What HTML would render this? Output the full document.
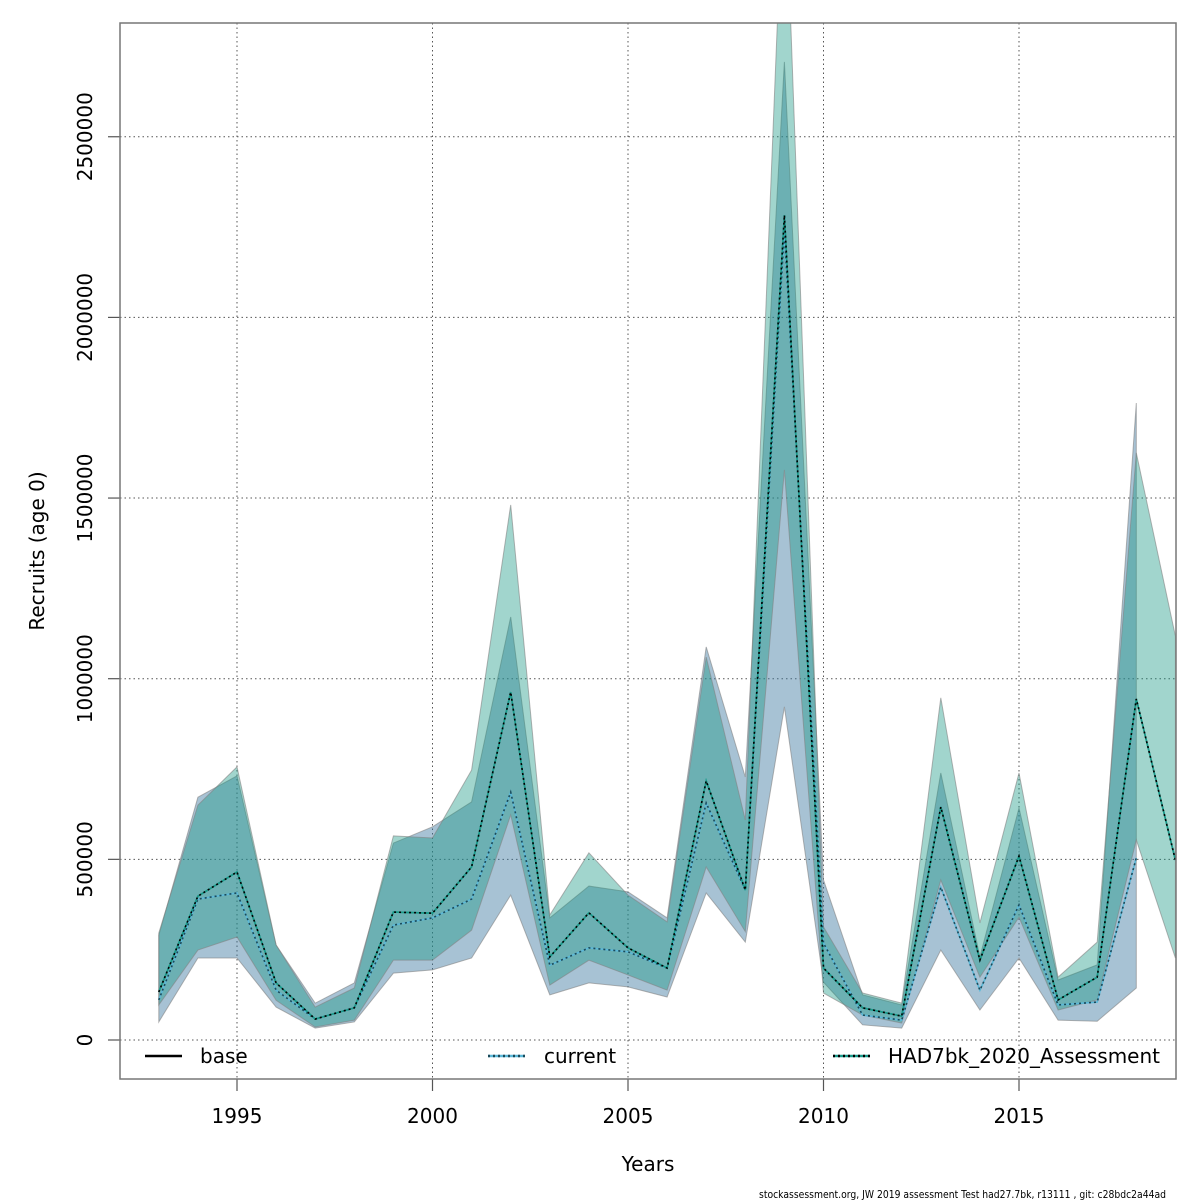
<!DOCTYPE html>
<html><head><meta charset="utf-8"><style>
body{margin:0;background:#fff}
svg{display:block;font-family:"DejaVu Sans","Liberation Sans",sans-serif}
</style></head><body>
<svg id="chart" width="1200" height="1200" viewBox="0 0 1200 1200">
<rect width="1200" height="1200" fill="#fff"/>
<g id="grid"></g>
<g id="bands"></g>
<g id="lines"></g>
<g id="axes"></g>
<rect x="120" y="23" width="1056" height="1056" fill="none" stroke="#777" stroke-width="1.5"/>
<g font-size="20">
<g><line x1="145" y1="1056" x2="182" y2="1056" stroke="#000" stroke-width="2.5"/><text x="200" y="1063">base</text></g>
<g><line x1="488" y1="1056" x2="525" y2="1056" stroke="#5bb8d8" stroke-width="2.5"/><line x1="488" y1="1056" x2="525" y2="1056" stroke="#1a4a5a" stroke-width="2.5" stroke-dasharray="2,3"/><text x="544" y="1063">current</text></g>
<g><line x1="833" y1="1056" x2="870" y2="1056" stroke="#1a9a8a" stroke-width="2.5"/><line x1="833" y1="1056" x2="870" y2="1056" stroke="#000" stroke-width="2.5" stroke-dasharray="2,3"/><text x="888" y="1063">HAD7bk_2020_Assessment</text></g>
</g>
<text x="648" y="1171" font-size="20" text-anchor="middle">Years</text>
<text transform="translate(44,551) rotate(-90)" font-size="20" text-anchor="middle">Recruits (age 0)</text>
<text x="759" y="1198" font-size="10.5" textLength="407" lengthAdjust="spacingAndGlyphs" fill="#000">stockassessment.org, JW 2019 assessment Test had27.7bk, r13111 , git: c28bdc2a44ad</text>
</svg>
<script>
const years=[1993,1994,1995,1996,1997,1998,1999,2000,2001,2002,2003,2004,2005,2006,2007,2008,2009,2010,2011,2012,2013,2014,2015,2016,2017,2018,2019];
const hadEst=[133,398,465,158,58,89,354,351,479,963,230,352,255,199,717,415,2283,199,89,66,645,221,509,111,174,944,498];
const hadLow=[97,249,285,110,36,55,221,221,304,623,152,221,180,138,479,300,1578,130,69,47,443,174,340,83,111,554,227];
const hadHigh=[296,650,756,263,91,144,565,559,747,1481,346,518,401,327,1060,609,3300,313,130,102,947,324,739,174,271,1625,1118];
const curYears=[1993,1994,1995,1996,1997,1998,1999,2000,2001,2002,2003,2004,2005,2006,2007,2008,2009,2010,2011,2012,2013,2014,2015,2016,2017,2018];
const curEst=[111,390,407,138,58,89,318,338,390,686,207,255,244,199,656,415,2242,268,69,55,423,138,374,97,105,504];
const curLow=[50,227,227,91,33,50,185,194,227,401,125,158,147,119,407,271,922,160,42,33,249,83,227,55,52,144];
const curHigh=[290,672,731,263,102,158,545,590,659,1171,338,426,410,338,1088,728,2707,443,125,97,739,230,642,166,208,1763];
const baseEst=hadEst.slice();
const xTicks=[1995,2000,2005,2010,2015];
const yTicks=[0,500000,1000000,1500000,2000000,2500000];
const yTickLabels=["0","500000","1000000","1500000","2000000","2500000"];

const X=y=>158.8+(y-1993)*39.1;
const Y=v=>1040-v*1000*361.3/1e6;
const NS="http://www.w3.org/2000/svg";
function mk(tag,attrs,parent){const e=document.createElementNS(NS,tag);for(const k in attrs)e.setAttribute(k,attrs[k]);parent.appendChild(e);return e;}
const grid=document.getElementById('grid'),bands=document.getElementById('bands'),lines=document.getElementById('lines'),axes=document.getElementById('axes');
const clip=mk('clipPath',{id:'pc'},document.getElementById('chart'));
mk('rect',{x:120,y:23,width:1056,height:1056},clip);
bands.setAttribute('clip-path','url(#pc)');lines.setAttribute('clip-path','url(#pc)');

xTicks.forEach(t=>{
 const g=mk('line',{x1:X(t),x2:X(t),y1:23,y2:1079,stroke:'#555','stroke-dasharray':'1.5,3','stroke-width':1},grid);
 
 
 const tk=mk('line',{x1:X(t),x2:X(t),y1:1079,y2:1091,stroke:'#555','stroke-width':1.2},axes);
 
 
 const tx=mk('text',{x:X(t),y:1123,'font-size':20,'text-anchor':'middle'},axes);tx.textContent=t;
 
 
});
yTicks.forEach((t,i)=>{
 const g=mk('line',{x1:120,x2:1176,y1:Y(t/1000),y2:Y(t/1000),stroke:'#555','stroke-dasharray':'1.5,3','stroke-width':1},grid);
 
 
 const tk=mk('line',{x1:108,x2:120,y1:Y(t/1000),y2:Y(t/1000),stroke:'#555','stroke-width':1.2},axes);
 
 
 const tx=mk('text',{transform:`translate(92,${Y(t/1000)}) rotate(-90)`,'font-size':20,'text-anchor':'middle'},axes);tx.textContent=yTickLabels[i];
 
 
});
function band(xs,lo,hi,fill,name){
 let pts=xs.map((y,i)=>X(y)+','+Y(hi[i]));
 pts=pts.concat(xs.map((y,i)=>X(y)+','+Y(lo[i])).reverse());
 const p=mk('polygon',{points:pts.join(' '),fill:fill,stroke:'rgba(130,130,130,0.6)','stroke-width':1},bands);
 
 
}
band(curYears,curLow,curHigh,'rgba(60,120,160,0.45)','current-band');
band(years,hadLow,hadHigh,'rgba(20,150,130,0.4)','had7bk-band');
function line(xs,v,attrs,name){
 const a=Object.assign({points:xs.map((y,i)=>X(y)+','+Y(v[i])).join(' '),fill:'none','stroke-width':1.6},attrs);
 const p=mk('polyline',a,lines);
 
 
}
line(years,baseEst,{stroke:'#1a9a8a'},'base-line');
line(curYears,curEst,{stroke:'#5bb8d8'},'current-line');
line(curYears,curEst,{stroke:'#1a4a5a','stroke-dasharray':'2,3'},'current-line-dots');
line(years,hadEst,{stroke:'#1a9a8a'},'had7bk-line');
line(years,hadEst,{stroke:'#000','stroke-dasharray':'2,3'},'had7bk-line-dots');
</script>
</body></html>
